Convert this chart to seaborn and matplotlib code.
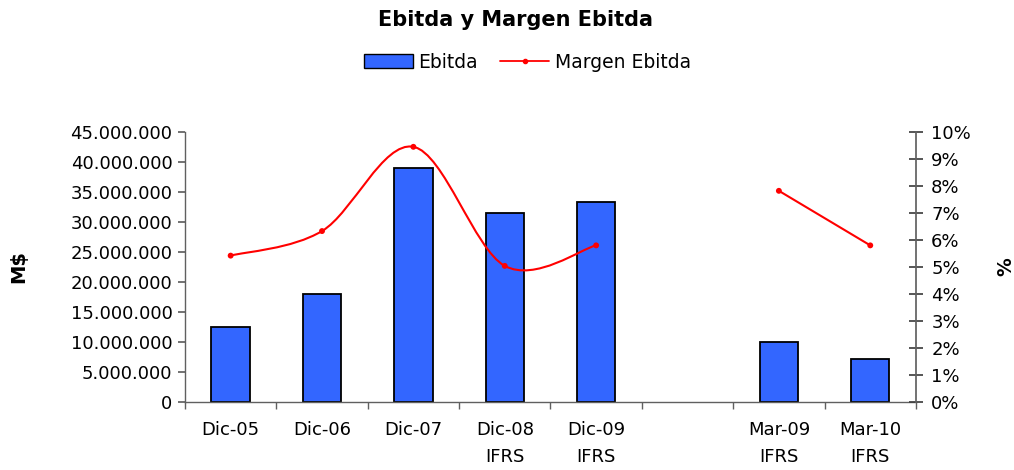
import numpy as np
import pandas as pd
import matplotlib
matplotlib.use("Agg")
import matplotlib.pyplot as plt
from matplotlib.path import Path
from matplotlib.patches import PathPatch, Patch
from matplotlib.lines import Line2D
from matplotlib.ticker import FuncFormatter, FixedLocator
import seaborn as sns

# data
categories = ["Dic-05", "Dic-06", "Dic-07", "Dic-08\nIFRS", "Dic-09\nIFRS", " ", "Mar-09\nIFRS", "Mar-10\nIFRS"]
ebitda = [12400000, 18000000, 39000000, 31400000, 33200000, np.nan, 10000000, 7050000]
margen = [5.41, 6.32, 9.44, 5.03, 5.79, np.nan, 7.81, 5.79]

sns.set_theme(style="white")
plt.rcParams["font.family"] = ["DejaVu Sans"]
for k in ["text.color", "axes.labelcolor", "xtick.color", "ytick.color"]:
    plt.rcParams[k] = "black"

fig = plt.figure(figsize=(10.14, 4.70), dpi=100)
ax = fig.add_axes([0.1824, 0.1453, 0.7209, 0.5745])

df = pd.DataFrame({"cat": categories, "ebitda": ebitda})
sns.barplot(data=df, x="cat", y="ebitda", order=categories, color="#3366FF",
            edgecolor="black", linewidth=1.3, width=0.42, saturation=1, ax=ax)
for p in ax.patches:
    p.set_facecolor("#3366FF")

ax.set_xlim(-0.5, len(categories) - 0.5)
ax.set_ylim(0, 45000000)
ax.set_yticks(np.arange(0, 45000001, 5000000))
ax.yaxis.set_major_formatter(FuncFormatter(lambda v, p: f"{int(v):,}".replace(",", ".")))
ax.set_xlabel("")
ax.set_ylabel("M$", fontsize=14, fontweight="bold")
ax.yaxis.set_label_coords(-0.215, 0.5)

ax.tick_params(axis="x", which="major", length=0, pad=14, labelsize=13, labelcolor="black")
ax.xaxis.set_minor_locator(FixedLocator(np.arange(len(categories) + 1) - 0.5))
ax.tick_params(axis="x", which="minor", length=5, direction="out", color="#606060", bottom=True)
ax.tick_params(axis="y", length=5, direction="out", color="#606060", labelsize=13, left=True, pad=4,
               labelcolor="black")
for lab in ax.get_xticklabels():
    lab.set_linespacing(1.65)
    lab.set_verticalalignment("top")

for s in ["top", "right"]:
    ax.spines[s].set_visible(False)
for s in ["left", "bottom"]:
    ax.spines[s].set_color("#606060")
    ax.spines[s].set_linewidth(1)
ax.grid(False)

# secondary axis: margin %
ax2 = ax.twinx()
ax2.set_ylim(0, 10)
ax2.set_yticks(np.arange(0, 11, 1))
ax2.yaxis.set_major_formatter(FuncFormatter(lambda v, p: f"{v:.0f}%"))
ax2.tick_params(axis="y", length=10, direction="inout", color="#404040", labelsize=13, right=True, pad=6,
                labelcolor="black")
ax2.set_ylabel("%", fontsize=13.5, fontweight="bold")
ax2.yaxis.set_label_coords(1.11, 0.5)
for s in ["top", "left", "bottom"]:
    ax2.spines[s].set_visible(False)
ax2.spines["right"].set_color("#606060")
ax2.grid(False)

# smooth (Excel style) curve through each run of points
pos = np.arange(len(categories), dtype=float)
m = np.array(margen, dtype=float)
valid = ~np.isnan(m)
runs, cur = [], []
for i in range(len(m)):
    if valid[i]:
        cur.append(i)
    elif cur:
        runs.append(cur)
        cur = []
if cur:
    runs.append(cur)
for run in runs:
    P = np.column_stack([pos[run], m[run]])
    verts = [P[0]]
    codes = [Path.MOVETO]
    n = len(P)
    for i in range(n - 1):
        p0 = P[i - 1] if i > 0 else P[i]
        p3 = P[i + 2] if i + 2 < n else P[i + 1]
        c1 = P[i] + (P[i + 1] - p0) / 6
        c2 = P[i + 1] - (p3 - P[i]) / 6
        verts += [c1, c2, P[i + 1]]
        codes += [Path.CURVE4] * 3
    ax2.add_patch(PathPatch(Path(verts, codes), facecolor="none", edgecolor="#FF0000", lw=1.5))

sns.scatterplot(x=pos[valid], y=m[valid], color="#FF0000", s=18, edgecolor="none", ax=ax2, zorder=5)

fig.suptitle("Ebitda y Margen Ebitda", x=0.508, y=0.957, va="center", fontsize=15, fontweight="bold",
             color="black")
handles = [Patch(facecolor="#3366FF", edgecolor="black", label="Ebitda"),
           Line2D([0], [0], color="#FF0000", lw=1.3, marker="o", markersize=3, label="Margen Ebitda")]
fig.legend(handles=handles, loc="center", bbox_to_anchor=(0.52, 0.868), ncol=2, frameon=False,
           fontsize=13.5, handlelength=2.6, handletextpad=0.3, columnspacing=1.2, labelcolor="black")

fig.savefig("out.png", dpi=100)
